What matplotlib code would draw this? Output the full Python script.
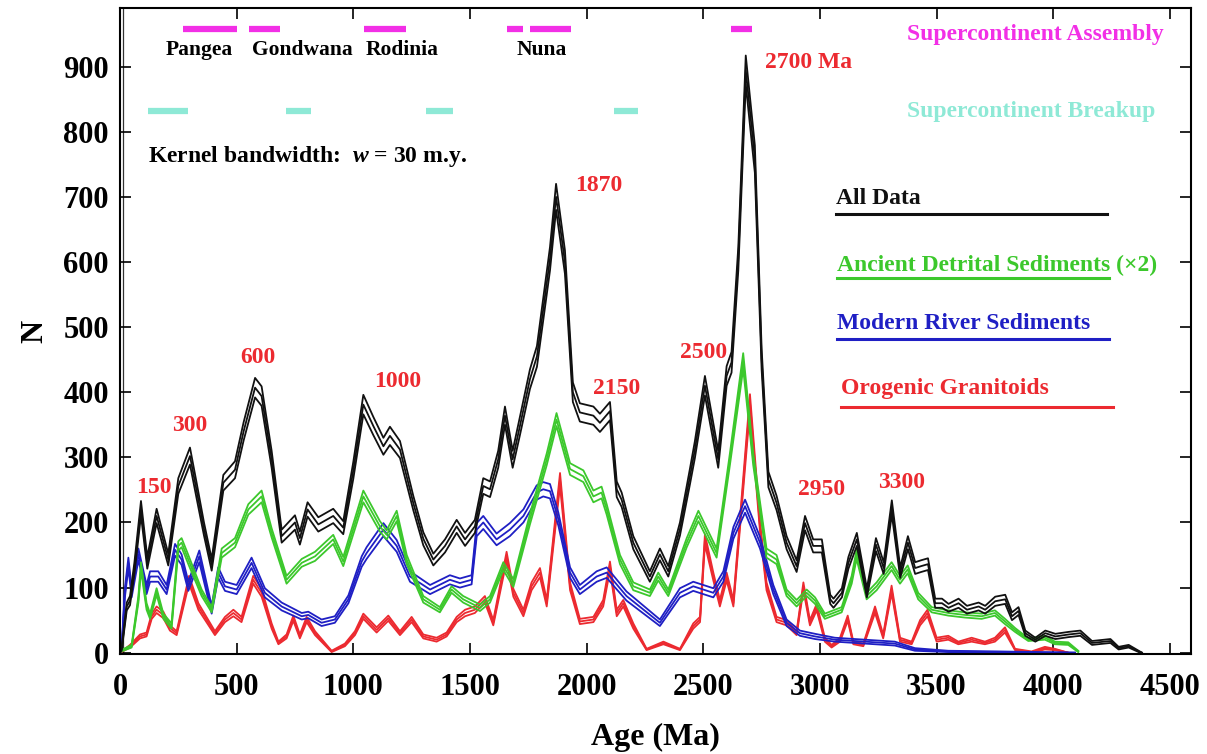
import matplotlib
matplotlib.use("Agg")
import matplotlib.pyplot as plt
import numpy as np

plt.rcParams["font.family"] = ["Liberation Serif", "DejaVu Serif"]
plt.rcParams["font.weight"] = "bold"
plt.rcParams["axes.labelweight"] = "bold"
plt.rcParams["mathtext.fontset"] = "custom"
plt.rcParams["mathtext.it"] = "Liberation Serif:bold:italic"
plt.rcParams["mathtext.rm"] = "Liberation Serif:bold"

# All Data
black_age = [0, 7, 29, 43, 62, 90, 117, 157, 207, 250, 300, 329, 360, 393, 443, 493, 530, 579, 607, 650,
             693, 750, 771, 804, 850, 914, 957, 1000, 1043, 1086, 1129, 1157, 1200, 1257, 1300, 1343, 1393,
             1443, 1479, 1521, 1557, 1586, 1621, 1650, 1683, 1714, 1757, 1787, 1815, 1843, 1869, 1907, 1941,
             1971, 2029, 2057, 2100, 2129, 2150, 2200, 2271, 2314, 2350, 2400, 2443, 2464, 2507, 2564, 2600,
             2621, 2650, 2682, 2721, 2750, 2779, 2814, 2857, 2900, 2936, 2971, 3008, 3044, 3058, 3094, 3122,
             3158, 3201, 3240, 3273, 3308, 3344, 3377, 3408, 3434, 3463, 3494, 3523, 3551, 3594, 3630, 3680,
             3708, 3751, 3794, 3823, 3851, 3880, 3923, 3966, 4009, 4066, 4116, 4166, 4245, 4280, 4323, 4366, 4380]
black_n = [0, 5, 71, 80, 130, 222, 138, 210, 143, 256, 302, 248, 190, 135, 261, 281, 340, 407, 394, 297,
           179, 200, 176, 220, 197, 210, 192, 280, 381, 348, 317, 333, 312, 230, 175, 143, 164,
           194, 174, 194, 256, 251, 297, 364, 297, 348, 420, 455, 530, 605, 700, 600, 400,
           369, 364, 353, 371, 251, 235, 169, 117, 151, 125, 190, 271, 312, 410, 297, 425,
           446, 605, 895, 758, 451, 266, 230, 169, 133, 199, 164, 164, 82, 76, 92, 138,
           174, 92, 166, 130, 223, 123, 169, 130, 133, 136, 76, 76, 69, 76, 66, 71,
           66, 79, 82, 56, 64, 30, 20, 30, 25, 28, 30, 15, 18, 7, 10, 2, 0]
black_err = [0, 2, 6, 7, 9, 11, 9, 11, 9, 12, 13, 12, 10, 9, 12, 13, 14, 15, 15, 13,
             10, 11, 10, 11, 11, 11, 10, 13, 15, 14, 13, 14, 13, 11, 10, 9, 10,
             10, 10, 10, 12, 12, 13, 14, 13, 14, 15, 16, 17, 18, 20, 18, 15,
             14, 14, 14, 14, 12, 11, 10, 8, 9, 8, 10, 12, 13, 15, 13, 15,
             16, 18, 22, 21, 16, 12, 11, 10, 9, 11, 10, 10, 7, 7, 7, 9,
             10, 7, 10, 9, 11, 8, 10, 9, 9, 9, 7, 7, 6, 7, 6, 6,
             6, 7, 7, 6, 6, 4, 3, 4, 4, 4, 4, 3, 3, 2, 2, 1, 0]

# Ancient Detrital Sediments (x2)
green_age = [0, 50, 79, 90, 114, 129, 157, 186, 221, 250, 264, 293, 350, 393, 436, 493, 550, 607, 650, 714,
             779, 836, 914, 957, 1000, 1043, 1114, 1143, 1186, 1229, 1300, 1371, 1421, 1471, 1543, 1586, 1643,
             1686, 1757, 1829, 1871, 1929, 1986, 2029, 2064, 2086, 2143, 2200, 2271, 2307, 2350, 2429, 2479,
             2557, 2614, 2671, 2714, 2771, 2814, 2857, 2900, 2943, 2979, 3021, 3093, 3136, 3157, 3200, 3243,
             3307, 3343, 3376, 3421, 3479, 3550, 3621, 3693, 3750, 3793, 3836, 3893, 3964, 4007, 4064, 4107]
green_n = [2, 10, 82, 133, 71, 56, 94, 56, 41, 164, 169, 143, 92, 66, 153, 169, 220, 240, 184, 112,
           138, 148, 174, 140, 190, 240, 194, 181, 210, 143, 82, 66, 97, 82, 69, 82, 133,
           107, 205, 297, 358, 282, 271, 240, 246, 220, 143, 102, 92, 117, 92, 169, 210,
           153, 297, 448, 297, 153, 143, 92, 76, 92, 80, 56, 66, 112, 151, 87, 102,
           133, 112, 128, 87, 66, 61, 58, 56, 61, 48, 35, 20, 23, 15, 14, 2]
green_err = [1, 2, 5, 6, 5, 4, 5, 4, 4, 7, 7, 7, 5, 4, 7, 7, 8, 9, 7, 6,
             6, 7, 7, 7, 8, 9, 8, 7, 8, 7, 5, 4, 5, 5, 5, 5, 6,
             6, 8, 9, 10, 9, 9, 9, 9, 8, 7, 6, 5, 6, 5, 7, 8,
             7, 9, 12, 9, 7, 7, 5, 5, 5, 5, 4, 4, 6, 7, 5, 6,
             6, 6, 6, 5, 4, 4, 4, 4, 4, 4, 3, 2, 3, 2, 2, 1]

# Modern River Sediments
blue_age = [0, 7, 21, 36, 50, 79, 114, 129, 164, 200, 236, 264, 293, 340, 393, 421, 450, 500, 564, 621,
            693, 779, 807, 864, 921, 979, 1036, 1057, 1129, 1186, 1243, 1329, 1414, 1457, 1507, 1529, 1557,
            1614, 1671, 1729, 1786, 1814, 1843, 1879, 1929, 1971, 2043, 2086, 2171, 2314, 2400, 2457, 2543,
            2586, 2629, 2679, 2743, 2800, 2857, 2914, 2979, 3064, 3193, 3321, 3407, 3550, 3764, 4093]
blue_n = [0, 5, 92, 138, 92, 151, 97, 117, 117, 97, 158, 143, 102, 148, 66, 123, 102, 97, 138, 92,
          71, 56, 58, 46, 51, 82, 140, 153, 189, 164, 117, 97, 112, 107, 112, 189, 200,
          174, 189, 210, 246, 251, 248, 205, 123, 97, 117, 123, 87, 46, 92, 102, 92,
          117, 184, 225, 169, 97, 46, 30, 25, 20, 17, 14, 5, 2, 1, 0]
blue_err = [0, 2, 7, 8, 7, 9, 7, 8, 8, 7, 9, 8, 7, 9, 6, 8, 7, 7, 8, 7,
            6, 5, 5, 5, 5, 6, 8, 9, 10, 9, 8, 7, 7, 7, 7, 10, 10,
            9, 10, 10, 11, 11, 11, 10, 8, 7, 8, 8, 7, 5, 7, 7, 7,
            8, 9, 10, 9, 7, 5, 4, 4, 3, 3, 3, 2, 1, 1, 0]

# Orogenic Granitoids
red_age = [0, 43, 86, 114, 136, 157, 186, 214, 243, 296, 336, 407, 450, 486, 521, 571, 607, 650, 679, 714,
           743, 771, 800, 836, 907, 964, 1007, 1043, 1100, 1150, 1200, 1250, 1300, 1357, 1400, 1443, 1479,
           1521, 1564, 1600, 1657, 1686, 1729, 1764, 1800, 1829, 1886, 1929, 1971, 2029, 2071, 2100, 2129,
           2157, 2200, 2257, 2329, 2400, 2457, 2486, 2507, 2543, 2571, 2600, 2629, 2700, 2743, 2771, 2814,
           2857, 2900, 2929, 2957, 2986, 3021, 3050, 3086, 3119, 3143, 3186, 3236, 3271, 3307, 3343, 3393,
           3429, 3461, 3500, 3550, 3593, 3650, 3707, 3750, 3793, 3836, 3907, 3964, 4007, 4064]
red_n = [0, 10, 25, 28, 56, 66, 58, 38, 30, 112, 71, 30, 51, 61, 51, 112, 92, 41, 15, 25,
         53, 25, 51, 30, 2, 12, 30, 56, 35, 53, 30, 51, 25, 20, 28, 51, 61,
         66, 82, 46, 148, 92, 61, 102, 123, 76, 266, 102, 48, 51, 76, 133, 61,
         76, 41, 5, 15, 5, 41, 51, 174, 117, 76, 117, 76, 385, 194, 102, 51,
         46, 30, 102, 46, 70, 20, 10, 20, 53, 15, 12, 66, 25, 97, 20, 15,
         46, 61, 20, 23, 15, 20, 15, 20, 35, 5, 1, 7, 5, 0]
red_err = [0, 2, 3, 3, 4, 5, 5, 4, 3, 6, 5, 3, 4, 5, 4, 6, 6, 4, 2, 3,
           4, 3, 4, 3, 1, 2, 3, 4, 4, 4, 3, 4, 3, 3, 3, 4, 5,
           5, 5, 4, 7, 6, 5, 6, 7, 5, 10, 6, 4, 4, 5, 7, 5,
           5, 4, 1, 2, 1, 4, 4, 8, 6, 5, 6, 5, 12, 8, 6, 4,
           4, 3, 6, 4, 5, 3, 2, 3, 4, 2, 2, 5, 3, 6, 3, 2,
           4, 5, 3, 3, 2, 3, 2, 3, 4, 1, 1, 2, 1, 0]

assembly_start = [270, 553, 1046, 1659, 1757, 2619]
assembly_end = [500, 686, 1226, 1727, 1933, 2709]
breakup_start = [120, 711, 1312, 2117]
breakup_end = [291, 819, 1427, 2220]

supercontinents = ["Pangea", "Gondwana", "Rodinia", "Nuna"]
supercontinent_age = [339, 780, 1209, 1809]

peak_labels = ["150", "300", "600", "1000", "1870", "2150", "2500", "2700 Ma", "2950", "3300"]
peak_label_age = [146, 300, 591, 1192, 2053, 2130, 2501, 2953, 3005, 3348]
peak_label_n = [254, 349, 454, 417, 718, 405, 461, 906, 250, 261]

legend_names = ["All Data", "Ancient Detrital Sediments (×2)", "Modern River Sediments", "Orogenic Granitoids"]

c_black = "#111111"
c_green = "#3cc82c"
c_blue = "#1f1fc4"
c_red = "#ec2a30"
c_mag = "#f22fe6"
c_cyan = "#8ee9d6"

fig = plt.figure(figsize=(12.07, 7.54), dpi=100)
ax = fig.add_axes([0.0994, 0.1326, 0.8873, 0.8568])

series = [(black_age, black_n, black_err, c_black),
          (green_age, green_n, green_err, c_green),
          (blue_age, blue_n, blue_err, c_blue),
          (red_age, red_n, red_err, c_red)]
for age, n, err, col in series[::-1]:
    age = np.array(age)
    n = np.array(n, dtype=float)
    err = np.array(err, dtype=float)
    for off in (-1, 0, 1):
        ax.plot(age, np.clip(n + off * err, 0, None), color=col, lw=1.3, solid_joinstyle="round")

# supercontinent bars
for s, e in zip(assembly_start, assembly_end):
    ax.plot([s, e], [957, 957], color=c_mag, lw=4.5, solid_capstyle="butt")
for s, e in zip(breakup_start, breakup_end):
    ax.plot([s, e], [832, 832], color=c_cyan, lw=4.5, solid_capstyle="butt")
for name, a in zip(supercontinents, supercontinent_age):
    ax.text(a, 925, name, ha="center", va="center", fontsize=15.5, color="black")

ax.text(3375, 949, "Supercontinent Assembly", color=c_mag, fontsize=17, va="center", ha="left")
ax.text(3375, 831, "Supercontinent Breakup", color=c_cyan, fontsize=17, va="center", ha="left")
ax.text(120, 762, "Kernel bandwidth:  $w$ = 30 m.y.", fontsize=17, va="center", ha="left")

for lab, a, n in zip(peak_labels, peak_label_age, peak_label_n):
    ax.text(a, n, lab, color=c_red, fontsize=17, ha="center", va="center")

# legend drawn by hand, text above a coloured rule
leg_y = [697, 594, 505, 405]
line_y = [674, 575, 482, 377]
leg_x = [3069, 3073, 3073, 3090]
leg_end = [4231, 4240, 4240, 4257]
for name, col, ty, ly, lx, le in zip(legend_names, [c_black, c_green, c_blue, c_red], leg_y, line_y, leg_x, leg_end):
    ax.text(lx, ty, name, color=col, fontsize=17, va="center", ha="left")
    ax.plot([lx, le], [ly, ly], color=col, lw=2.2)

# the left frame is drawn double in the original
ax.axvline(15, color="#333333", lw=0.9, zorder=0.5)

ax.set_xlim(0, 4590)
ax.set_ylim(-2, 990)
ax.set_xticks(np.arange(0, 4501, 500))
ax.set_yticks(np.arange(0, 901, 100))
ax.tick_params(direction="in", length=8, width=1.2, top=True, right=True, labelsize=22)
ax.tick_params(axis="x", pad=14)
ax.tick_params(axis="y", pad=8)
for sp in ax.spines.values():
    sp.set_linewidth(1.5)
ax.set_xlabel("Age (Ma)", fontsize=23, labelpad=15)
ax.set_ylabel("N", fontsize=23, labelpad=10)

fig.savefig("out.png", dpi=100)
